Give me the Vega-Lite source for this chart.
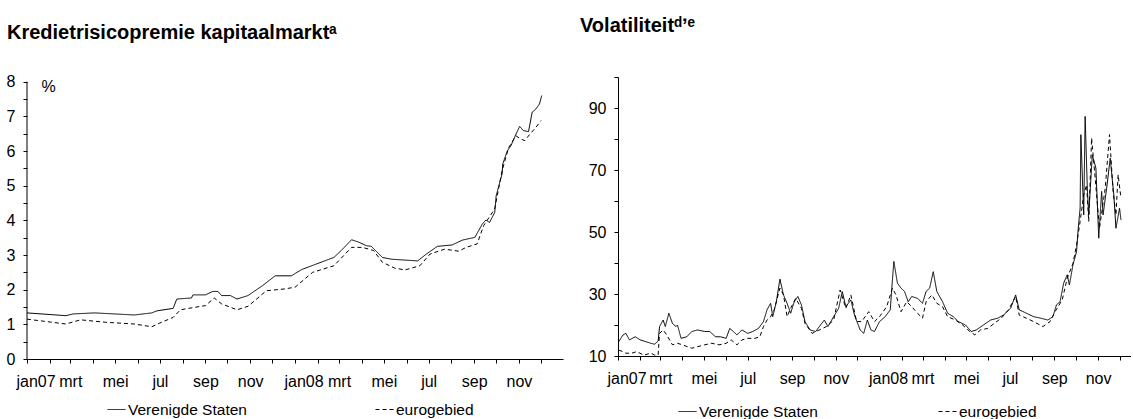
{
  "$schema": "https://vega.github.io/schema/vega-lite/v6.json",
  "background": "white",
  "padding": {"left": 6, "top": 15, "right": 0, "bottom": 0},
  "spacing": 17,
  "config": {
    "view": {"stroke": null},
    "font": "Liberation Sans",
    "axis": {"domainColor": "black", "tickColor": "black", "labelColor": "black", "labelFont": "Liberation Sans", "labelFontSize": 16, "grid": false, "ticks": true, "tickSize": 4, "tickOpacity": 1, "domainWidth": 1, "tickWidth": 1},
    "legend": {"labelFont": "Liberation Sans", "labelFontSize": 15.5, "labelColor": "black", "symbolType": "stroke", "symbolStrokeColor": "black", "symbolStrokeWidth": 1, "symbolSize": 324, "labelOffset": 2, "title": null}
  },
  "datasets": {
    "credit": [
      {"d":"2007-01-01","s":"Verenigde Staten","v":1.33},{"d":"2007-02-23","s":"Verenigde Staten","v":1.25},{"d":"2007-03-05","s":"Verenigde Staten","v":1.30},{"d":"2007-04-03","s":"Verenigde Staten","v":1.33},{"d":"2007-05-27","s":"Verenigde Staten","v":1.27},{"d":"2007-06-20","s":"Verenigde Staten","v":1.33},{"d":"2007-06-27","s":"Verenigde Staten","v":1.39},{"d":"2007-07-19","s":"Verenigde Staten","v":1.46},{"d":"2007-07-24","s":"Verenigde Staten","v":1.73},{"d":"2007-08-13","s":"Verenigde Staten","v":1.76},{"d":"2007-08-15","s":"Verenigde Staten","v":1.85},{"d":"2007-09-01","s":"Verenigde Staten","v":1.85},{"d":"2007-09-11","s":"Verenigde Staten","v":1.95},{"d":"2007-09-18","s":"Verenigde Staten","v":1.95},{"d":"2007-09-23","s":"Verenigde Staten","v":1.83},{"d":"2007-10-05","s":"Verenigde Staten","v":1.83},{"d":"2007-10-14","s":"Verenigde Staten","v":1.73},{"d":"2007-10-29","s":"Verenigde Staten","v":1.83},{"d":"2007-11-18","s":"Verenigde Staten","v":2.12},{"d":"2007-12-05","s":"Verenigde Staten","v":2.40},{"d":"2007-12-27","s":"Verenigde Staten","v":2.40},{"d":"2008-01-10","s":"Verenigde Staten","v":2.58},{"d":"2008-01-30","s":"Verenigde Staten","v":2.74},{"d":"2008-02-23","s":"Verenigde Staten","v":2.93},{"d":"2008-03-04","s":"Verenigde Staten","v":3.13},{"d":"2008-03-18","s":"Verenigde Staten","v":3.44},{"d":"2008-03-28","s":"Verenigde Staten","v":3.37},{"d":"2008-04-07","s":"Verenigde Staten","v":3.27},{"d":"2008-04-14","s":"Verenigde Staten","v":3.25},{"d":"2008-04-29","s":"Verenigde Staten","v":2.93},{"d":"2008-05-11","s":"Verenigde Staten","v":2.88},{"d":"2008-05-25","s":"Verenigde Staten","v":2.86},{"d":"2008-06-16","s":"Verenigde Staten","v":2.83},{"d":"2008-06-28","s":"Verenigde Staten","v":3.03},{"d":"2008-07-13","s":"Verenigde Staten","v":3.25},{"d":"2008-08-02","s":"Verenigde Staten","v":3.29},{"d":"2008-08-16","s":"Verenigde Staten","v":3.43},{"d":"2008-09-02","s":"Verenigde Staten","v":3.51},{"d":"2008-09-12","s":"Verenigde Staten","v":3.89},{"d":"2008-09-17","s":"Verenigde Staten","v":4.01},{"d":"2008-09-22","s":"Verenigde Staten","v":3.94},{"d":"2008-09-29","s":"Verenigde Staten","v":4.23},{"d":"2008-10-01","s":"Verenigde Staten","v":4.71},{"d":"2008-10-09","s":"Verenigde Staten","v":5.34},{"d":"2008-10-10","s":"Verenigde Staten","v":5.63},{"d":"2008-10-16","s":"Verenigde Staten","v":6.00},{"d":"2008-10-21","s":"Verenigde Staten","v":6.15},{"d":"2008-10-28","s":"Verenigde Staten","v":6.49},{"d":"2008-11-02","s":"Verenigde Staten","v":6.71},{"d":"2008-11-07","s":"Verenigde Staten","v":6.59},{"d":"2008-11-14","s":"Verenigde Staten","v":6.56},{"d":"2008-11-16","s":"Verenigde Staten","v":6.78},{"d":"2008-11-19","s":"Verenigde Staten","v":7.12},{"d":"2008-11-24","s":"Verenigde Staten","v":7.21},{"d":"2008-11-29","s":"Verenigde Staten","v":7.36},{"d":"2008-12-02","s":"Verenigde Staten","v":7.60},
      {"d":"2007-01-01","s":"eurogebied","v":1.15},{"d":"2007-02-23","s":"eurogebied","v":1.01},{"d":"2007-03-15","s":"eurogebied","v":1.13},{"d":"2007-04-18","s":"eurogebied","v":1.06},{"d":"2007-05-27","s":"eurogebied","v":1.01},{"d":"2007-06-20","s":"eurogebied","v":0.93},{"d":"2007-06-30","s":"eurogebied","v":1.03},{"d":"2007-07-19","s":"eurogebied","v":1.20},{"d":"2007-07-29","s":"eurogebied","v":1.42},{"d":"2007-08-17","s":"eurogebied","v":1.49},{"d":"2007-09-01","s":"eurogebied","v":1.54},{"d":"2007-09-13","s":"eurogebied","v":1.76},{"d":"2007-09-23","s":"eurogebied","v":1.59},{"d":"2007-10-14","s":"eurogebied","v":1.42},{"d":"2007-10-29","s":"eurogebied","v":1.52},{"d":"2007-11-23","s":"eurogebied","v":1.97},{"d":"2007-12-17","s":"eurogebied","v":2.02},{"d":"2008-01-01","s":"eurogebied","v":2.07},{"d":"2008-01-25","s":"eurogebied","v":2.50},{"d":"2008-02-23","s":"eurogebied","v":2.69},{"d":"2008-03-18","s":"eurogebied","v":3.22},{"d":"2008-04-02","s":"eurogebied","v":3.22},{"d":"2008-04-17","s":"eurogebied","v":3.13},{"d":"2008-04-29","s":"eurogebied","v":2.79},{"d":"2008-05-16","s":"eurogebied","v":2.62},{"d":"2008-05-30","s":"eurogebied","v":2.57},{"d":"2008-06-19","s":"eurogebied","v":2.69},{"d":"2008-07-03","s":"eurogebied","v":3.03},{"d":"2008-07-23","s":"eurogebied","v":3.17},{"d":"2008-08-11","s":"eurogebied","v":3.11},{"d":"2008-08-21","s":"eurogebied","v":3.22},{"d":"2008-09-05","s":"eurogebied","v":3.32},{"d":"2008-09-14","s":"eurogebied","v":3.85},{"d":"2008-09-29","s":"eurogebied","v":4.33},{"d":"2008-10-09","s":"eurogebied","v":5.43},{"d":"2008-10-18","s":"eurogebied","v":6.10},{"d":"2008-10-28","s":"eurogebied","v":6.44},{"d":"2008-11-03","s":"eurogebied","v":6.35},{"d":"2008-11-09","s":"eurogebied","v":6.30},{"d":"2008-11-16","s":"eurogebied","v":6.49},{"d":"2008-11-24","s":"eurogebied","v":6.68},{"d":"2008-12-01","s":"eurogebied","v":6.88}
    ],
    "vol": [
      {"d":"2007-01-02","s":"Verenigde Staten","v":14.6},{"d":"2007-01-08","s":"Verenigde Staten","v":16.8},{"d":"2007-01-12","s":"Verenigde Staten","v":17.3},{"d":"2007-01-17","s":"Verenigde Staten","v":15.2},{"d":"2007-01-25","s":"Verenigde Staten","v":16.2},{"d":"2007-02-01","s":"Verenigde Staten","v":15.2},{"d":"2007-02-09","s":"Verenigde Staten","v":14.6},{"d":"2007-02-16","s":"Verenigde Staten","v":14.1},{"d":"2007-02-21","s":"Verenigde Staten","v":13.8},{"d":"2007-02-26","s":"Verenigde Staten","v":14.8},{"d":"2007-02-28","s":"Verenigde Staten","v":19.5},{"d":"2007-03-05","s":"Verenigde Staten","v":21.6},{"d":"2007-03-08","s":"Verenigde Staten","v":19.5},{"d":"2007-03-13","s":"Verenigde Staten","v":23.8},{"d":"2007-03-18","s":"Verenigde Staten","v":20.5},{"d":"2007-03-23","s":"Verenigde Staten","v":19.5},{"d":"2007-03-25","s":"Verenigde Staten","v":20.0},{"d":"2007-03-30","s":"Verenigde Staten","v":15.7},{"d":"2007-04-07","s":"Verenigde Staten","v":16.2},{"d":"2007-04-14","s":"Verenigde Staten","v":17.9},{"d":"2007-04-22","s":"Verenigde Staten","v":18.4},{"d":"2007-05-02","s":"Verenigde Staten","v":17.9},{"d":"2007-05-09","s":"Verenigde Staten","v":17.9},{"d":"2007-05-17","s":"Verenigde Staten","v":16.2},{"d":"2007-05-24","s":"Verenigde Staten","v":16.2},{"d":"2007-06-01","s":"Verenigde Staten","v":15.7},{"d":"2007-06-06","s":"Verenigde Staten","v":18.9},{"d":"2007-06-11","s":"Verenigde Staten","v":17.9},{"d":"2007-06-16","s":"Verenigde Staten","v":16.8},{"d":"2007-06-23","s":"Verenigde Staten","v":18.4},{"d":"2007-07-01","s":"Verenigde Staten","v":17.3},{"d":"2007-07-08","s":"Verenigde Staten","v":17.9},{"d":"2007-07-16","s":"Verenigde Staten","v":18.9},{"d":"2007-07-23","s":"Verenigde Staten","v":21.1},{"d":"2007-07-28","s":"Verenigde Staten","v":24.9},{"d":"2007-08-02","s":"Verenigde Staten","v":27.0},{"d":"2007-08-05","s":"Verenigde Staten","v":22.7},{"d":"2007-08-10","s":"Verenigde Staten","v":27.5},{"d":"2007-08-15","s":"Verenigde Staten","v":34.8},{"d":"2007-08-20","s":"Verenigde Staten","v":29.7},{"d":"2007-08-25","s":"Verenigde Staten","v":27.0},{"d":"2007-08-30","s":"Verenigde Staten","v":23.8},{"d":"2007-09-04","s":"Verenigde Staten","v":27.5},{"d":"2007-09-09","s":"Verenigde Staten","v":29.2},{"d":"2007-09-14","s":"Verenigde Staten","v":26.5},{"d":"2007-09-19","s":"Verenigde Staten","v":21.1},{"d":"2007-09-26","s":"Verenigde Staten","v":18.4},{"d":"2007-10-04","s":"Verenigde Staten","v":17.9},{"d":"2007-10-09","s":"Verenigde Staten","v":19.5},{"d":"2007-10-16","s":"Verenigde Staten","v":21.6},{"d":"2007-10-21","s":"Verenigde Staten","v":19.5},{"d":"2007-10-29","s":"Verenigde Staten","v":22.7},{"d":"2007-11-05","s":"Verenigde Staten","v":25.4},{"d":"2007-11-10","s":"Verenigde Staten","v":30.8},{"d":"2007-11-15","s":"Verenigde Staten","v":25.9},{"d":"2007-11-22","s":"Verenigde Staten","v":28.1},{"d":"2007-11-27","s":"Verenigde Staten","v":23.2},{"d":"2007-12-05","s":"Verenigde Staten","v":18.4},{"d":"2007-12-10","s":"Verenigde Staten","v":17.3},{"d":"2007-12-15","s":"Verenigde Staten","v":21.6},{"d":"2007-12-20","s":"Verenigde Staten","v":18.4},{"d":"2007-12-25","s":"Verenigde Staten","v":17.9},{"d":"2008-01-01","s":"Verenigde Staten","v":21.1},{"d":"2008-01-09","s":"Verenigde Staten","v":22.7},{"d":"2008-01-16","s":"Verenigde Staten","v":24.9},{"d":"2008-01-19","s":"Verenigde Staten","v":34.5},{"d":"2008-01-21","s":"Verenigde Staten","v":40.5},{"d":"2008-01-26","s":"Verenigde Staten","v":33.5},{"d":"2008-01-31","s":"Verenigde Staten","v":31.9},{"d":"2008-02-05","s":"Verenigde Staten","v":30.8},{"d":"2008-02-10","s":"Verenigde Staten","v":27.5},{"d":"2008-02-15","s":"Verenigde Staten","v":29.2},{"d":"2008-02-23","s":"Verenigde Staten","v":28.6},{"d":"2008-03-01","s":"Verenigde Staten","v":27.0},{"d":"2008-03-06","s":"Verenigde Staten","v":30.8},{"d":"2008-03-11","s":"Verenigde Staten","v":31.9},{"d":"2008-03-16","s":"Verenigde Staten","v":37.2},{"d":"2008-03-21","s":"Verenigde Staten","v":30.8},{"d":"2008-03-29","s":"Verenigde Staten","v":27.5},{"d":"2008-04-05","s":"Verenigde Staten","v":23.8},{"d":"2008-04-13","s":"Verenigde Staten","v":22.7},{"d":"2008-04-20","s":"Verenigde Staten","v":21.1},{"d":"2008-04-30","s":"Verenigde Staten","v":20.0},{"d":"2008-05-08","s":"Verenigde Staten","v":17.9},{"d":"2008-05-15","s":"Verenigde Staten","v":18.4},{"d":"2008-05-25","s":"Verenigde Staten","v":20.0},{"d":"2008-06-04","s":"Verenigde Staten","v":21.6},{"d":"2008-06-14","s":"Verenigde Staten","v":22.2},{"d":"2008-06-22","s":"Verenigde Staten","v":23.2},{"d":"2008-07-02","s":"Verenigde Staten","v":25.4},{"d":"2008-07-09","s":"Verenigde Staten","v":29.7},{"d":"2008-07-14","s":"Verenigde Staten","v":24.9},{"d":"2008-07-24","s":"Verenigde Staten","v":23.8},{"d":"2008-08-03","s":"Verenigde Staten","v":22.7},{"d":"2008-08-13","s":"Verenigde Staten","v":22.2},{"d":"2008-08-23","s":"Verenigde Staten","v":21.6},{"d":"2008-08-30","s":"Verenigde Staten","v":22.7},{"d":"2008-09-04","s":"Verenigde Staten","v":26.5},{"d":"2008-09-09","s":"Verenigde Staten","v":27.5},{"d":"2008-09-14","s":"Verenigde Staten","v":33.5},{"d":"2008-09-19","s":"Verenigde Staten","v":36.2},{"d":"2008-09-22","s":"Verenigde Staten","v":32.9},{"d":"2008-09-27","s":"Verenigde Staten","v":39.4},{"d":"2008-10-02","s":"Verenigde Staten","v":43.7},{"d":"2008-10-04","s":"Verenigde Staten","v":50.2},{"d":"2008-10-07","s":"Verenigde Staten","v":57.7},{"d":"2008-10-08","s":"Verenigde Staten","v":81.4},{"d":"2008-10-12","s":"Verenigde Staten","v":55.5},{"d":"2008-10-14","s":"Verenigde Staten","v":87.3},{"d":"2008-10-17","s":"Verenigde Staten","v":64.1},{"d":"2008-10-19","s":"Verenigde Staten","v":55.5},{"d":"2008-10-24","s":"Verenigde Staten","v":74.9},{"d":"2008-10-29","s":"Verenigde Staten","v":70.6},{"d":"2008-11-02","s":"Verenigde Staten","v":48.0},{"d":"2008-11-06","s":"Verenigde Staten","v":63.1},{"d":"2008-11-08","s":"Verenigde Staten","v":55.5},{"d":"2008-11-13","s":"Verenigde Staten","v":64.1},{"d":"2008-11-18","s":"Verenigde Staten","v":73.8},{"d":"2008-11-23","s":"Verenigde Staten","v":62.0},{"d":"2008-11-26","s":"Verenigde Staten","v":51.2},{"d":"2008-12-01","s":"Verenigde Staten","v":57.7},{"d":"2008-12-03","s":"Verenigde Staten","v":53.9},
      {"d":"2007-01-02","s":"eurogebied","v":11.9},{"d":"2007-01-08","s":"eurogebied","v":11.4},{"d":"2007-01-12","s":"eurogebied","v":10.9},{"d":"2007-01-20","s":"eurogebied","v":10.9},{"d":"2007-01-27","s":"eurogebied","v":11.4},{"d":"2007-02-06","s":"eurogebied","v":10.3},{"d":"2007-02-16","s":"eurogebied","v":10.9},{"d":"2007-02-21","s":"eurogebied","v":10.3},{"d":"2007-02-26","s":"eurogebied","v":10.3},{"d":"2007-02-28","s":"eurogebied","v":17.3},{"d":"2007-03-05","s":"eurogebied","v":18.4},{"d":"2007-03-10","s":"eurogebied","v":16.8},{"d":"2007-03-18","s":"eurogebied","v":13.6},{"d":"2007-03-25","s":"eurogebied","v":14.1},{"d":"2007-04-01","s":"eurogebied","v":13.6},{"d":"2007-04-14","s":"eurogebied","v":12.5},{"d":"2007-04-22","s":"eurogebied","v":13.0},{"d":"2007-05-02","s":"eurogebied","v":13.6},{"d":"2007-05-12","s":"eurogebied","v":14.1},{"d":"2007-05-22","s":"eurogebied","v":13.6},{"d":"2007-06-01","s":"eurogebied","v":14.1},{"d":"2007-06-08","s":"eurogebied","v":15.2},{"d":"2007-06-16","s":"eurogebied","v":13.6},{"d":"2007-06-23","s":"eurogebied","v":15.2},{"d":"2007-07-01","s":"eurogebied","v":15.7},{"d":"2007-07-11","s":"eurogebied","v":15.7},{"d":"2007-07-18","s":"eurogebied","v":16.2},{"d":"2007-07-23","s":"eurogebied","v":19.5},{"d":"2007-07-28","s":"eurogebied","v":21.6},{"d":"2007-08-02","s":"eurogebied","v":22.7},{"d":"2007-08-07","s":"eurogebied","v":24.9},{"d":"2007-08-15","s":"eurogebied","v":31.9},{"d":"2007-08-20","s":"eurogebied","v":29.7},{"d":"2007-08-25","s":"eurogebied","v":22.7},{"d":"2007-08-30","s":"eurogebied","v":25.4},{"d":"2007-09-06","s":"eurogebied","v":28.6},{"d":"2007-09-14","s":"eurogebied","v":25.4},{"d":"2007-09-19","s":"eurogebied","v":20.5},{"d":"2007-09-29","s":"eurogebied","v":17.3},{"d":"2007-10-09","s":"eurogebied","v":18.4},{"d":"2007-10-19","s":"eurogebied","v":19.5},{"d":"2007-10-29","s":"eurogebied","v":21.6},{"d":"2007-11-07","s":"eurogebied","v":31.3},{"d":"2007-11-15","s":"eurogebied","v":25.4},{"d":"2007-11-22","s":"eurogebied","v":29.7},{"d":"2007-11-30","s":"eurogebied","v":21.1},{"d":"2007-12-07","s":"eurogebied","v":21.1},{"d":"2007-12-17","s":"eurogebied","v":24.3},{"d":"2007-12-25","s":"eurogebied","v":21.1},{"d":"2008-01-01","s":"eurogebied","v":22.7},{"d":"2008-01-11","s":"eurogebied","v":25.9},{"d":"2008-01-19","s":"eurogebied","v":31.9},{"d":"2008-01-24","s":"eurogebied","v":29.7},{"d":"2008-01-31","s":"eurogebied","v":24.3},{"d":"2008-02-08","s":"eurogebied","v":27.5},{"d":"2008-02-15","s":"eurogebied","v":25.9},{"d":"2008-02-23","s":"eurogebied","v":23.8},{"d":"2008-03-01","s":"eurogebied","v":22.2},{"d":"2008-03-06","s":"eurogebied","v":27.5},{"d":"2008-03-14","s":"eurogebied","v":29.7},{"d":"2008-03-21","s":"eurogebied","v":27.0},{"d":"2008-03-29","s":"eurogebied","v":25.9},{"d":"2008-04-05","s":"eurogebied","v":22.7},{"d":"2008-04-16","s":"eurogebied","v":21.6},{"d":"2008-04-26","s":"eurogebied","v":20.0},{"d":"2008-05-06","s":"eurogebied","v":17.9},{"d":"2008-05-13","s":"eurogebied","v":16.8},{"d":"2008-05-21","s":"eurogebied","v":18.4},{"d":"2008-05-31","s":"eurogebied","v":18.9},{"d":"2008-06-09","s":"eurogebied","v":20.5},{"d":"2008-06-19","s":"eurogebied","v":22.2},{"d":"2008-06-29","s":"eurogebied","v":24.9},{"d":"2008-07-09","s":"eurogebied","v":29.2},{"d":"2008-07-14","s":"eurogebied","v":23.2},{"d":"2008-07-24","s":"eurogebied","v":22.2},{"d":"2008-08-03","s":"eurogebied","v":21.1},{"d":"2008-08-16","s":"eurogebied","v":19.5},{"d":"2008-08-26","s":"eurogebied","v":21.1},{"d":"2008-09-02","s":"eurogebied","v":24.3},{"d":"2008-09-12","s":"eurogebied","v":28.1},{"d":"2008-09-19","s":"eurogebied","v":35.1},{"d":"2008-09-27","s":"eurogebied","v":39.9},{"d":"2008-10-02","s":"eurogebied","v":45.8},{"d":"2008-10-07","s":"eurogebied","v":53.4},{"d":"2008-10-12","s":"eurogebied","v":62.0},{"d":"2008-10-16","s":"eurogebied","v":65.2},{"d":"2008-10-19","s":"eurogebied","v":53.4},{"d":"2008-10-23","s":"eurogebied","v":80.3},{"d":"2008-10-28","s":"eurogebied","v":67.4},{"d":"2008-11-03","s":"eurogebied","v":51.2},{"d":"2008-11-11","s":"eurogebied","v":64.1},{"d":"2008-11-17","s":"eurogebied","v":81.4},{"d":"2008-11-22","s":"eurogebied","v":63.1},{"d":"2008-11-26","s":"eurogebied","v":55.5},{"d":"2008-11-29","s":"eurogebied","v":68.5},{"d":"2008-12-03","s":"eurogebied","v":60.9}
    ]
  },
  "resolve": {"scale": {"strokeDash": "independent"}, "legend": {"strokeDash": "independent"}},
  "hconcat": [
    {
      "width": 536,
      "height": 282,
      "title": {"text": "Kredietrisicopremie kapitaalmarktᵃ", "anchor": "start", "frame": "group", "dx": -20, "fontSize": 20, "fontWeight": "bold", "font": "Liberation Sans", "color": "black", "offset": 31},
      "resolve": {"axis": {"x": "independent", "y": "independent"}},
      "layer": [
        {
          "data": {"name": "credit"},
          "mark": {"type": "line", "strokeWidth": 1, "color": "black"},
          "encoding": {
            "x": {"field": "d", "type": "temporal", "scale": {"type": "utc", "domain": ["2007-01-01", "2008-12-31"], "nice": false},
              "axis": {"title": null, "orient": "bottom", "tickCount": {"interval": "month", "step": 1}, "labelPadding": 10, "labelOverlap": false, "labelBound": false, "labelFlush": false,
                "labelExpr": "utcmonth(datum.value) % 2 == 0 ? ['jan','feb','mrt','apr','mei','jun','jul','aug','sep','okt','nov','dec'][utcmonth(datum.value)] + (utcmonth(datum.value) == 0 ? utcFormat(datum.value, '%y') : '') : ''",
                "labelAlign": {"condition": {"test": "utcmonth(datum.value) == 0", "value": "left"}, "value": "center"},
                "labelOffset": {"condition": {"test": "utcmonth(datum.value) == 0", "value": -11}, "value": 0}}},
            "y": {"field": "v", "type": "quantitative", "scale": {"domain": [0, 8.136], "nice": false, "zero": true},
              "axis": {"title": "%", "orient": "left", "domain": false, "titleAngle": 0, "titleAlign": "left", "titleBaseline": "middle", "titleX": 14, "titleY": 9, "titleFontSize": 16, "titleFontWeight": "normal", "titleFont": "Liberation Sans", "titleColor": "black",
                "values": [0, 0.5, 1, 1.5, 2, 2.5, 3, 3.5, 4, 4.5, 5, 5.5, 6, 6.5, 7, 7.5, 8], "labelExpr": "datum.value % 1 == 0 ? format(datum.value, 'd') : ''", "labelPadding": 8}},
            "strokeDash": {"field": "s", "type": "nominal", "scale": {"domain": ["Verenigde Staten", "eurogebied"], "range": [[1, 0], [4, 3]]},
              "legend": {"orient": "none", "legendX": 80, "legendY": 323, "direction": "horizontal", "columns": 2, "columnPadding": 126}}
          }
        },
        {
          "data": {"values": [{"start": "2007-01-01", "lo": 0, "hi": 8}]},
          "mark": {"type": "rule", "color": "black", "strokeWidth": 1},
          "encoding": {
            "x": {"field": "start", "type": "temporal", "axis": null},
            "y": {"field": "lo", "type": "quantitative", "axis": null},
            "y2": {"field": "hi"}
          }
        }
      ]
    },
    {
      "data": {"name": "vol"},
      "width": 513,
      "height": 279,
      "title": {"text": "Volatiliteitᵈʼᵉ", "anchor": "start", "frame": "group", "dx": -38, "fontSize": 20, "fontWeight": "bold", "font": "Liberation Sans", "color": "black", "offset": 41},
      "mark": {"type": "line", "strokeWidth": 1, "color": "black"},
      "encoding": {
        "x": {"field": "d", "type": "temporal", "scale": {"type": "utc", "domain": ["2007-01-01", "2008-12-17"], "nice": false},
          "axis": {"title": null, "tickCount": {"interval": "month", "step": 1}, "labelPadding": 10, "labelOverlap": false, "labelBound": false, "labelFlush": false,
            "labelExpr": "utcmonth(datum.value) % 2 == 0 ? ['jan','feb','mrt','apr','mei','jun','jul','aug','sep','okt','nov','dec'][utcmonth(datum.value)] + (utcmonth(datum.value) == 0 ? utcFormat(datum.value, '%y') : '') : ''",
            "labelAlign": {"condition": {"test": "utcmonth(datum.value) == 0", "value": "left"}, "value": "center"},
            "labelOffset": {"condition": {"test": "utcmonth(datum.value) == 0", "value": -11}, "value": 0}}},
        "y": {"field": "v", "type": "quantitative", "scale": {"domain": [10, 100], "nice": false, "zero": false},
          "axis": {"title": null, "values": [10, 20, 30, 40, 50, 60, 70, 80, 90, 100], "labelExpr": "(datum.value == 10 || datum.value == 30 || datum.value == 50 || datum.value == 70 || datum.value == 90) ? datum.label : ''", "labelPadding": 8}},
        "strokeDash": {"field": "s", "type": "nominal", "scale": {"domain": ["Verenigde Staten", "eurogebied"], "range": [[1, 0], [4, 3]]},
          "legend": {"orient": "none", "legendX": 60, "legendY": 325, "direction": "horizontal", "columns": 2, "columnPadding": 118}}
      }
    }
  ]
}
